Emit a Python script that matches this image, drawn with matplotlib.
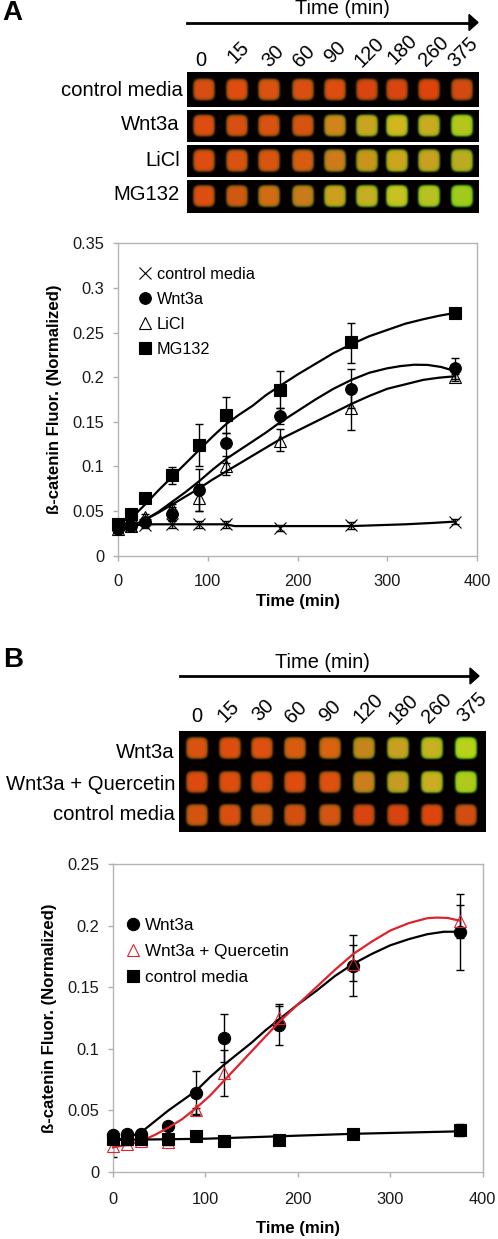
import numpy as np
import matplotlib
matplotlib.use("Agg")
import matplotlib.pyplot as plt
from matplotlib.colors import to_rgb
from matplotlib.lines import Line2D

plt.rcParams['font.family'] = ['Liberation Sans', 'DejaVu Sans']

W, H = 498, 1239

time_labels = ["0", "15", "30", "60", "90", "120", "180", "260", "375"]
minutes = [0, 15, 30, 60, 90, 120, 180, 260, 375]

# gel spot colours, panel A
gel_a_control = ["#d84d12", "#de4c10", "#da5211", "#da4f11", "#de4c10", "#d84510", "#d84511", "#de430c", "#d44911"]
gel_a_wnt = ["#de4c10", "#d85011", "#da5211", "#d85212", "#d0841b", "#c9a421", "#d1b61f", "#c9ab21", "#b6c51d"]
gel_a_licl = ["#de4d10", "#da5211", "#da5411", "#d85c12", "#cf7a1b", "#c9941d", "#cda51d", "#c9a021", "#bdab21"]
gel_a_mg = ["#de4d10", "#d15812", "#d16c15", "#c97a1b", "#cda01f", "#c5ae21", "#c9c021", "#bac021", "#a3c91d"]

# gel spot colours, panel B
gel_b_wnt = ["#da5211", "#de4d10", "#de4f10", "#d85c12", "#da6212", "#c5851d", "#c9a021", "#c5b221", "#bad11a"]
gel_b_q = ["#de4910", "#de4c10", "#de4f10", "#de4c10", "#de4f10", "#cd7e1d", "#c59c21", "#c9ae21", "#b2c91d"]
gel_b_control = ["#d45411", "#da4f11", "#d45812", "#d45012", "#d45413", "#d84510", "#d84310", "#de450e", "#d44c12"]

# panel A points
a_mg = [0.035, 0.046, 0.065, 0.09, 0.124, 0.158, 0.186, 0.239, 0.272]
a_mg_lo = [0.035, 0.046, 0.065, 0.08, 0.1, 0.137, 0.165, 0.216, 0.272]
a_mg_hi = [0.035, 0.046, 0.065, 0.099, 0.147, 0.178, 0.207, 0.261, 0.272]
a_wnt = [0.03, 0.033, 0.038, 0.047, 0.073, 0.126, 0.157, 0.187, 0.21]
a_wnt_lo = [0.028, 0.031, 0.034, 0.04, 0.05, 0.104, 0.148, 0.165, 0.198]
a_wnt_hi = [0.032, 0.035, 0.042, 0.054, 0.097, 0.137, 0.165, 0.209, 0.222]
a_licl = [0.03, 0.033, 0.043, 0.053, 0.065, 0.1, 0.128, 0.165, 0.2]
a_licl_lo = [0.028, 0.031, 0.04, 0.048, 0.05, 0.09, 0.117, 0.141, 0.196]
a_licl_hi = [0.032, 0.035, 0.046, 0.058, 0.08, 0.112, 0.142, 0.19, 0.204]
a_ctl = [0.035, 0.033, 0.034, 0.035, 0.035, 0.035, 0.031, 0.034, 0.038]
a_ctl_lo = [0.033, 0.031, 0.031, 0.031, 0.031, 0.031, 0.028, 0.03, 0.035]
a_ctl_hi = [0.037, 0.035, 0.037, 0.039, 0.039, 0.039, 0.034, 0.038, 0.041]

# panel A trend lines
a_mg_cx = [0, 15, 30, 45, 60, 75, 90, 105, 120, 135, 150, 165, 180, 200, 220, 240, 260, 280, 300, 320, 340, 358, 375]
a_mg_cy = [0.028, 0.042, 0.057, 0.073, 0.088, 0.103, 0.118, 0.133, 0.147, 0.158, 0.168, 0.18, 0.19, 0.203, 0.215,
           0.227, 0.237, 0.246, 0.253, 0.26, 0.265, 0.269, 0.272]
a_wnt_cx = [0, 15, 30, 45, 60, 75, 90, 105, 120, 135, 150, 165, 180, 200, 220, 240, 260, 280, 300, 315, 330, 345, 360, 375]
a_wnt_cy = [0.026, 0.032, 0.04, 0.049, 0.06, 0.071, 0.083, 0.096, 0.108, 0.118, 0.128, 0.138, 0.149, 0.162, 0.175,
            0.187, 0.197, 0.205, 0.21, 0.2125, 0.214, 0.2138, 0.2115, 0.207]
a_licl_cx = [0, 15, 30, 45, 60, 75, 90, 105, 120, 135, 150, 165, 180, 200, 220, 240, 260, 280, 300, 320, 340, 358, 375]
a_licl_cy = [0.028, 0.033, 0.04, 0.048, 0.057, 0.066, 0.075, 0.085, 0.094, 0.103, 0.112, 0.121, 0.13, 0.14, 0.15,
             0.16, 0.17, 0.179, 0.187, 0.192, 0.197, 0.1995, 0.201]
a_ctl_cx = [0, 40, 120, 130, 260, 290, 320, 350, 375]
a_ctl_cy = [0.033, 0.035, 0.035, 0.033, 0.033, 0.034, 0.035, 0.0365, 0.038]

# panel B points
b_wnt = [0.03, 0.031, 0.031, 0.037, 0.064, 0.109, 0.119, 0.167, 0.195]
b_wnt_lo = [0.03, 0.029, 0.029, 0.034, 0.047, 0.089, 0.103, 0.143, 0.164]
b_wnt_hi = [0.03, 0.033, 0.033, 0.04, 0.082, 0.128, 0.136, 0.192, 0.226]
b_q = [0.021, 0.023, 0.025, 0.024, 0.05, 0.08, 0.125, 0.169, 0.204]
b_q_lo = [0.012, 0.022, 0.024, 0.022, 0.046, 0.062, 0.115, 0.155, 0.19]
b_q_hi = [0.03, 0.024, 0.026, 0.026, 0.052, 0.099, 0.135, 0.184, 0.217]
b_ctl = [0.027, 0.027, 0.027, 0.027, 0.029, 0.025, 0.026, 0.031, 0.034]
b_ctl_lo = [0.025, 0.025, 0.025, 0.024, 0.026, 0.021, 0.024, 0.029, 0.029]
b_ctl_hi = [0.029, 0.029, 0.029, 0.03, 0.032, 0.029, 0.028, 0.033, 0.039]

b_wnt_cx = [0, 15, 30, 45, 60, 75, 90, 105, 120, 135, 150, 165, 180, 200, 220, 240, 260, 280, 300, 320, 340, 358, 375]
b_wnt_cy = [0.025, 0.028, 0.032, 0.041, 0.05, 0.058, 0.066, 0.077, 0.087, 0.096, 0.105, 0.115, 0.124, 0.136, 0.147,
            0.159, 0.169, 0.177, 0.184, 0.189, 0.193, 0.195, 0.195]
b_q_cx = [0, 15, 30, 45, 60, 75, 90, 105, 120, 135, 150, 165, 180, 200, 220, 240, 260, 280, 300, 320, 340, 350, 362, 375]
b_q_cy = [0.02, 0.022, 0.025, 0.03, 0.036, 0.043, 0.052, 0.062, 0.074, 0.086, 0.098, 0.11, 0.122, 0.136, 0.15,
          0.164, 0.177, 0.187, 0.196, 0.202, 0.206, 0.2065, 0.2062, 0.204]
b_ctl_cx = [0, 100, 180, 260, 375]
b_ctl_cy = [0.026, 0.027, 0.029, 0.031, 0.033]

fig = plt.figure(figsize=(W / 100, H / 100), dpi=100)


# all layout below is given in pixels of the picture, top left origin
def px_axes(x0, y0, x1, y1):
    return fig.add_axes([x0 / W, 1 - y1 / H, (x1 - x0) / W, (y1 - y0) / H])


def px_text(x, y, s, **kw):
    kw.setdefault('ha', 'center')
    kw.setdefault('va', 'center')
    fig.text(x / W, 1 - y / H, s, **kw)


def draw_gel(x0, y0, x1, y1, xs, ys, rows, size=11):
    # raster of black with soft rounded squares, rim a bit greener like the scan
    nx, ny = int((x1 - x0) * 3), int((y1 - y0) * 3)
    px = x0 + (np.arange(nx) + 0.5) / 3
    py = y0 + (np.arange(ny) + 0.5) / 3
    gx, gy = np.meshgrid(px, py)
    img = np.zeros((ny, nx, 3))
    img[..., 0] = 0.02
    for cy, colours in zip(ys, rows):
        for cx, c in zip(xs, colours):
            r = ((np.abs(gx - cx) / size) ** 4 + (np.abs(gy - cy) / size) ** 4) ** 0.25
            mask = np.clip((1.1 - r) / 0.22, 0, 1)[..., None]
            rim = np.clip((r - 0.68) / 0.32, 0, 1)[..., None]
            base = np.array(to_rgb(c))
            edge = base * np.array([0.6, 1.0, 0.5])
            col = base * (1 - rim) + edge * rim
            img = img * (1 - mask) + col * mask
    ax = px_axes(x0, y0, x1, y1)
    ax.imshow(img, aspect='auto', interpolation='bilinear')
    ax.axis('off')


def draw_arrow(x0, x1, y):
    fig.add_artist(Line2D([x0 / W, (x1 - 8) / W], [1 - y / H] * 2, color='black', lw=2.0))
    fig.add_artist(plt.Polygon([[(x1 - 9) / W, 1 - (y - 8) / H], [x1 / W, 1 - y / H], [(x1 - 9) / W, 1 - (y + 8) / H]],
                               closed=True, color='black', transform=fig.transFigure))


def setup_chart(ax, ymax, yticks, ytick_labels, xpad):
    ax.set_xlim(0, 400)
    ax.set_ylim(0, ymax)
    ax.set_xticks([0, 100, 200, 300, 400])
    ax.set_yticks(yticks)
    ax.set_yticklabels(ytick_labels)
    ax.tick_params(labelsize=11.8, colors='#b0b0b0', labelcolor='#1a1a1a', length=3.6, width=1, pad=6.4)
    ax.tick_params(axis='x', pad=xpad)
    for s in ax.spines.values():
        s.set_color('#b4b4b4')
        s.set_linewidth(1.0)
    ax.patch.set_alpha(0)


def series(ax, y, lo, hi, cx, cy, marker, label, size=8, face='black', edge='black', line='black', z=3):
    y = np.array(y)
    ax.errorbar(minutes, y, yerr=[y - np.array(lo), np.array(hi) - y], fmt='none', ecolor='black',
                elinewidth=1.0, capsize=3.2, capthick=1.0, zorder=2)
    ax.plot(cx, cy, color=line, lw=1.6, zorder=z, clip_on=False)
    ax.plot(minutes, y, ls='none', marker=marker, ms=size, mfc=face, mec=edge, mew=0.8, label=label, zorder=z + 1,
            clip_on=False)


# panel A
px_text(2, 13, "A", fontsize=20, fontweight='bold', ha='left')
px_text(342, 9, "Time (min)", fontsize=14.4)
draw_arrow(187, 478, 22.5)

a_label_xy = [(201, 60), (238, 52), (273, 56), (304, 56), (335, 52), (369, 52), (402, 49), (434, 51), (463, 52)]
for (lx, ly), s in zip(a_label_xy, time_labels):
    px_text(lx, ly, s, fontsize=14.4, rotation=0 if s == "0" else 45)

a_xs = [204, 237, 269, 303, 335, 367, 397, 429, 462]
draw_gel(187, 72, 479, 107, a_xs, [89.5], [gel_a_control])
draw_gel(187, 110, 479, 142, a_xs, [125.5], [gel_a_wnt])
draw_gel(187, 145, 479, 177, a_xs, [161], [gel_a_licl])
draw_gel(187, 180, 479, 213, a_xs, [196], [gel_a_mg])
px_text(183, 90, "control media", fontsize=14.6, ha='right')
px_text(180, 125, "Wnt3a", fontsize=14.6, ha='right')
px_text(180, 160, "LiCl", fontsize=14.6, ha='right')
px_text(180, 195, "MG132", fontsize=14.6, ha='right')

ax_a = px_axes(118, 243.5, 477, 555.5)
setup_chart(ax_a, 0.35, [0, 0.05, 0.1, 0.15, 0.2, 0.25, 0.3, 0.35],
            ["0", "0.05", "0.1", "0.15", "0.2", "0.25", "0.3", "0.35"], 9.5)
series(ax_a, a_ctl, a_ctl_lo, a_ctl_hi, a_ctl_cx, a_ctl_cy, 'x', "control media", size=8.5)
series(ax_a, a_wnt, a_wnt_lo, a_wnt_hi, a_wnt_cx, a_wnt_cy, 'o', "Wnt3a", size=8.4)
series(ax_a, a_licl, a_licl_lo, a_licl_hi, a_licl_cx, a_licl_cy, '^', "LiCl", size=8.2, face='none')
series(ax_a, a_mg, a_mg_lo, a_mg_hi, a_mg_cx, a_mg_cy, 's', "MG132", size=8.2)
ax_a.legend(loc='upper left', bbox_to_anchor=(0.04, 0.925), frameon=False, fontsize=11.7, labelspacing=0.62,
            handletextpad=-0.1, handlelength=1.6, borderaxespad=0, borderpad=0)
ax_a.set_xlabel("Time (min)", fontsize=12.1, fontweight='bold', labelpad=4)
ax_a.set_ylabel("ß-catenin Fluor. (Normalized)", fontsize=12.1, fontweight='bold', labelpad=7)

# panel B
px_text(3, 660, "B", fontsize=20, fontweight='bold', ha='left')
px_text(322, 663, "Time (min)", fontsize=14.4)
draw_arrow(180, 479, 676)

b_label_xy = [(197, 717), (228, 711), (263, 710), (296, 712), (330, 711), (368, 708), (403, 709), (437, 708), (472, 707)]
for (lx, ly), s in zip(b_label_xy, time_labels):
    px_text(lx, ly, s, fontsize=14.4, rotation=0 if s == "0" else 45)

b_xs = [197, 230, 262, 295, 330, 364, 398, 432, 466]
draw_gel(179, 731, 486, 832, b_xs, [748, 782, 815], [gel_b_wnt, gel_b_q, gel_b_control])
px_text(175, 752, "Wnt3a", fontsize=14.6, ha='right')
px_text(175, 784, "Wnt3a + Quercetin", fontsize=14.6, ha='right')
px_text(175, 815, "control media", fontsize=14.6, ha='right')

ax_b = px_axes(113, 864, 482.7, 1172)
setup_chart(ax_b, 0.25, [0, 0.05, 0.1, 0.15, 0.2, 0.25], ["0", "0.05", "0.1", "0.15", "0.2", "0.25"], 10.7)
series(ax_b, b_wnt, b_wnt_lo, b_wnt_hi, b_wnt_cx, b_wnt_cy, 'o', "Wnt3a", size=8.8)
series(ax_b, b_q, b_q_lo, b_q_hi, b_q_cx, b_q_cy, '^', "Wnt3a + Quercetin", size=8.6, face='none', edge='#e0222a',
       line='#e0222a', z=5)
series(ax_b, b_ctl, b_ctl_lo, b_ctl_hi, b_ctl_cx, b_ctl_cy, 's', "control media", size=8.6, z=7)
ax_b.legend(loc='upper left', bbox_to_anchor=(0.016, 0.825), frameon=False, fontsize=12.3, labelspacing=0.66,
            handletextpad=-0.1, handlelength=1.6, borderaxespad=0, borderpad=0)
ax_b.set_xlabel("Time (min)", fontsize=12.1, fontweight='bold', labelpad=10.5)
ax_b.set_ylabel("ß-catenin Fluor. (Normalized)", fontsize=12.1, fontweight='bold', labelpad=7)

fig.savefig("out.png", dpi=100)
